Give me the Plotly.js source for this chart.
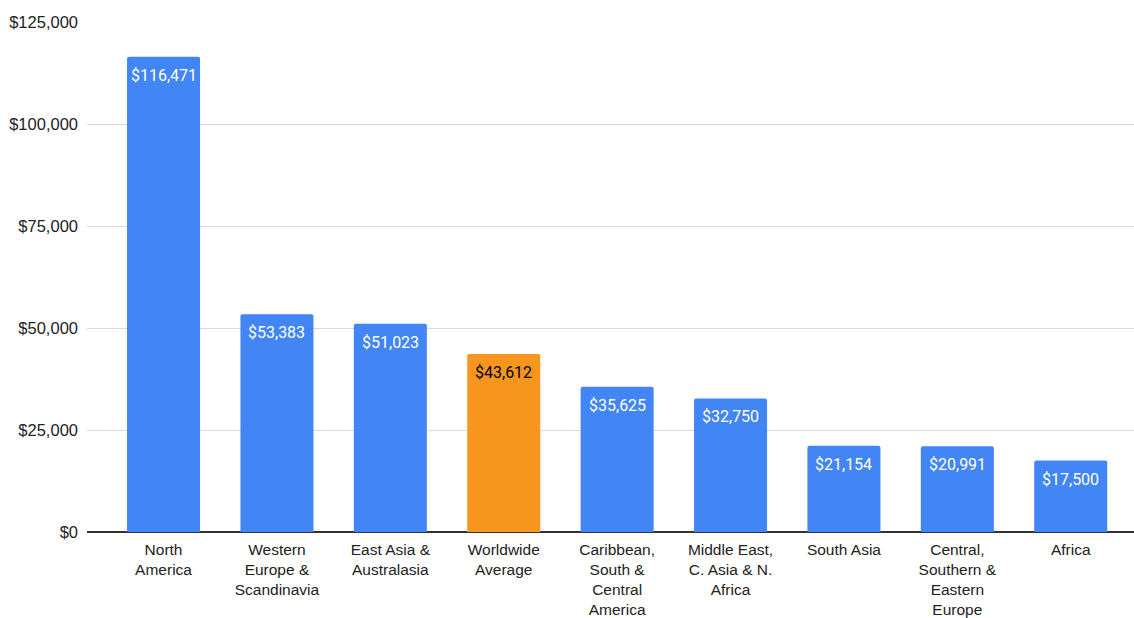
<!DOCTYPE html>
<html><head><meta charset="utf-8">
<script src="https://cdn.plot.ly/plotly-3.0.1.min.js"></script>
<style>html,body{margin:0;padding:0;background:#fff;}#chart{width:1134px;height:618px;}</style>
</head><body><div id="chart"></div>
<script>
const categories = ["North<br>America","Western<br>Europe &<br>Scandinavia","East Asia &<br>Australasia","Worldwide<br>Average","Caribbean,<br>South &<br>Central<br>America","Middle East,<br>C. Asia & N.<br>Africa","South Asia","Central,<br>Southern &<br>Eastern<br>Europe","Africa"];
const values = [116471, 53383, 51023, 43612, 35625, 32750, 21154, 20991, 17500];
const highlight = "Worldwide<br>Average";
const yTicks = [0, 25000, 50000, 75000, 100000, 125000];
const yTickLabels = ["$0","$25,000","$50,000","$75,000","$100,000","$125,000"];

const colors = categories.map(c => c === highlight ? "#F7961E" : "#4285F4");
const textColors = categories.map(c => c === highlight ? "#000000" : "#ffffff");
const labels = values.map(v => "$" + v.toLocaleString("en-US"));

const annotations = categories.map((c, i) => ({
  x: c, y: values[i], xref: "x", yref: "y",
  text: labels[i], showarrow: false,
  yanchor: "top", xanchor: "center", yshift: -7,
  font: {family: "Roboto, sans-serif", size: 16, color: textColors[i]}
}));

Plotly.newPlot("chart", [{
  type: "bar",
  x: categories,
  y: values,
  marker: {color: colors, cornerradius: 2},
  hoverinfo: "skip"
}], {
  width: 1134, height: 618,
  margin: {l: 87, r: 0, t: 22, b: 86},
  paper_bgcolor: "#fff", plot_bgcolor: "#fff",
  bargap: 0.356,
  showlegend: false,
  annotations: annotations,
  xaxis: {
    type: "category",
    range: [-0.675, 8.558],
    tickfont: {family: "Liberation Sans, Arial, sans-serif", size: 15.5, color: "#222"},
    ticklabelstandoff: 6,
    showgrid: false, ticks: "", showline: false, zeroline: false, fixedrange: true
  },
  yaxis: {
    range: [0, 125000],
    tickvals: yTicks, ticktext: yTickLabels,
    tickfont: {family: "Liberation Sans, Arial, sans-serif", size: 16.5, color: "#222"},
    ticklabelstandoff: 8,
    gridcolor: "#d9d9d9", gridwidth: 1,
    zeroline: true, zerolinecolor: "#333", zerolinewidth: 1.5,
    ticks: "", ticklen: 0, showline: false, fixedrange: true
  }
}, {displayModeBar: false, staticPlot: true});
</script></body></html>
